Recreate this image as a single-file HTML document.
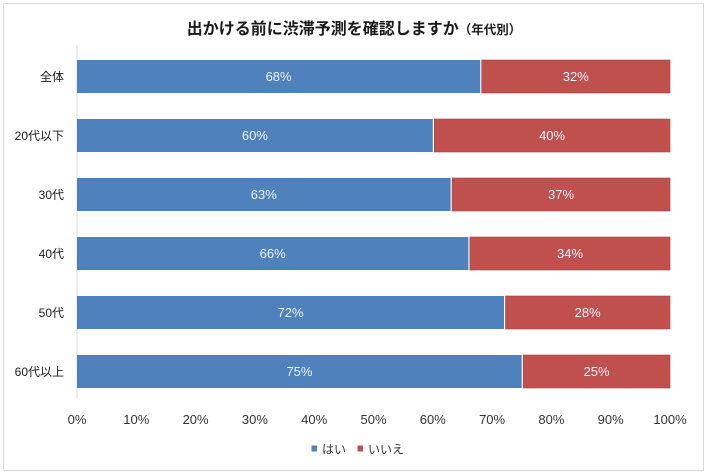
<!DOCTYPE html>
<html><head><meta charset="utf-8"><style>
html,body{margin:0;padding:0;background:#fff;}
svg{display:block;}
text{font-family:"Liberation Sans","Noto Sans CJK JP",sans-serif;}
</style></head><body>
<svg width="710" height="474" viewBox="0 0 710 474" xmlns="http://www.w3.org/2000/svg">
<rect x="0" y="0" width="710" height="474" fill="#fff"/>
<rect x="3.5" y="3.5" width="700" height="467" fill="#fff" stroke="#d9d9d9" stroke-width="1"/>
<text x="354" y="34" text-anchor="middle" font-size="16" font-weight="bold" fill="#1a1a1a">出かける前に渋滞予測を確認しますか<tspan font-size="12.5">（年代別）</tspan></text>
<line x1="77" y1="45" x2="77" y2="398" stroke="#d9d9d9" stroke-width="1"/>
<g font-size="12" fill="#1a1a1a" text-anchor="end">
<text x="64" y="81">全体</text>
<text x="64" y="140">20代以下</text>
<text x="64" y="199">30代</text>
<text x="64" y="258">40代</text>
<text x="64" y="317">50代</text>
<text x="64" y="376">60代以上</text>
</g>
<g>
<rect x="77" y="60" width="403.2" height="33" fill="#4f81bd"/>
<rect x="481.7" y="60" width="188.3" height="33" fill="#c0504d" stroke="#a54340" stroke-width="0.6"/>
<rect x="77" y="119" width="355.8" height="33" fill="#4f81bd"/>
<rect x="434.3" y="119" width="235.7" height="33" fill="#c0504d" stroke="#a54340" stroke-width="0.6"/>
<rect x="77" y="178" width="373.6" height="33" fill="#4f81bd"/>
<rect x="452.1" y="178" width="217.9" height="33" fill="#c0504d" stroke="#a54340" stroke-width="0.6"/>
<rect x="77" y="237" width="391.4" height="33" fill="#4f81bd"/>
<rect x="469.9" y="237" width="200.1" height="33" fill="#c0504d" stroke="#a54340" stroke-width="0.6"/>
<rect x="77" y="296" width="427" height="33" fill="#4f81bd"/>
<rect x="505.5" y="296" width="164.5" height="33" fill="#c0504d" stroke="#a54340" stroke-width="0.6"/>
<rect x="77" y="355" width="444.7" height="33" fill="#4f81bd"/>
<rect x="523.2" y="355" width="146.8" height="33" fill="#c0504d" stroke="#a54340" stroke-width="0.6"/>
</g>
<g font-size="13" fill="#eef3ff" text-anchor="middle">
<text x="278.6" y="81">68%</text><text x="575.8" y="81">32%</text>
<text x="254.9" y="140">60%</text><text x="552.1" y="140">40%</text>
<text x="263.8" y="199">63%</text><text x="561" y="199">37%</text>
<text x="272.7" y="258">66%</text><text x="570" y="258">34%</text>
<text x="290.5" y="317">72%</text><text x="587.7" y="317">28%</text>
<text x="299.4" y="376">75%</text><text x="596.6" y="376">25%</text>
</g>
<g font-size="13" fill="#333" text-anchor="middle">
<text x="77" y="424">0%</text>
<text x="136.3" y="424">10%</text>
<text x="195.6" y="424">20%</text>
<text x="254.9" y="424">30%</text>
<text x="314.2" y="424">40%</text>
<text x="373.5" y="424">50%</text>
<text x="432.8" y="424">60%</text>
<text x="492.1" y="424">70%</text>
<text x="551.4" y="424">80%</text>
<text x="610.7" y="424">90%</text>
<text x="670" y="424">100%</text>
</g>
<rect x="311.5" y="445.5" width="5.5" height="6" fill="#4f81bd"/>
<text x="322" y="453.5" font-size="12" fill="#333">はい</text>
<rect x="357.5" y="445.5" width="5.5" height="6" fill="#c0504d"/>
<text x="368" y="453.5" font-size="12" fill="#333">いいえ</text>
</svg>
</body></html>
